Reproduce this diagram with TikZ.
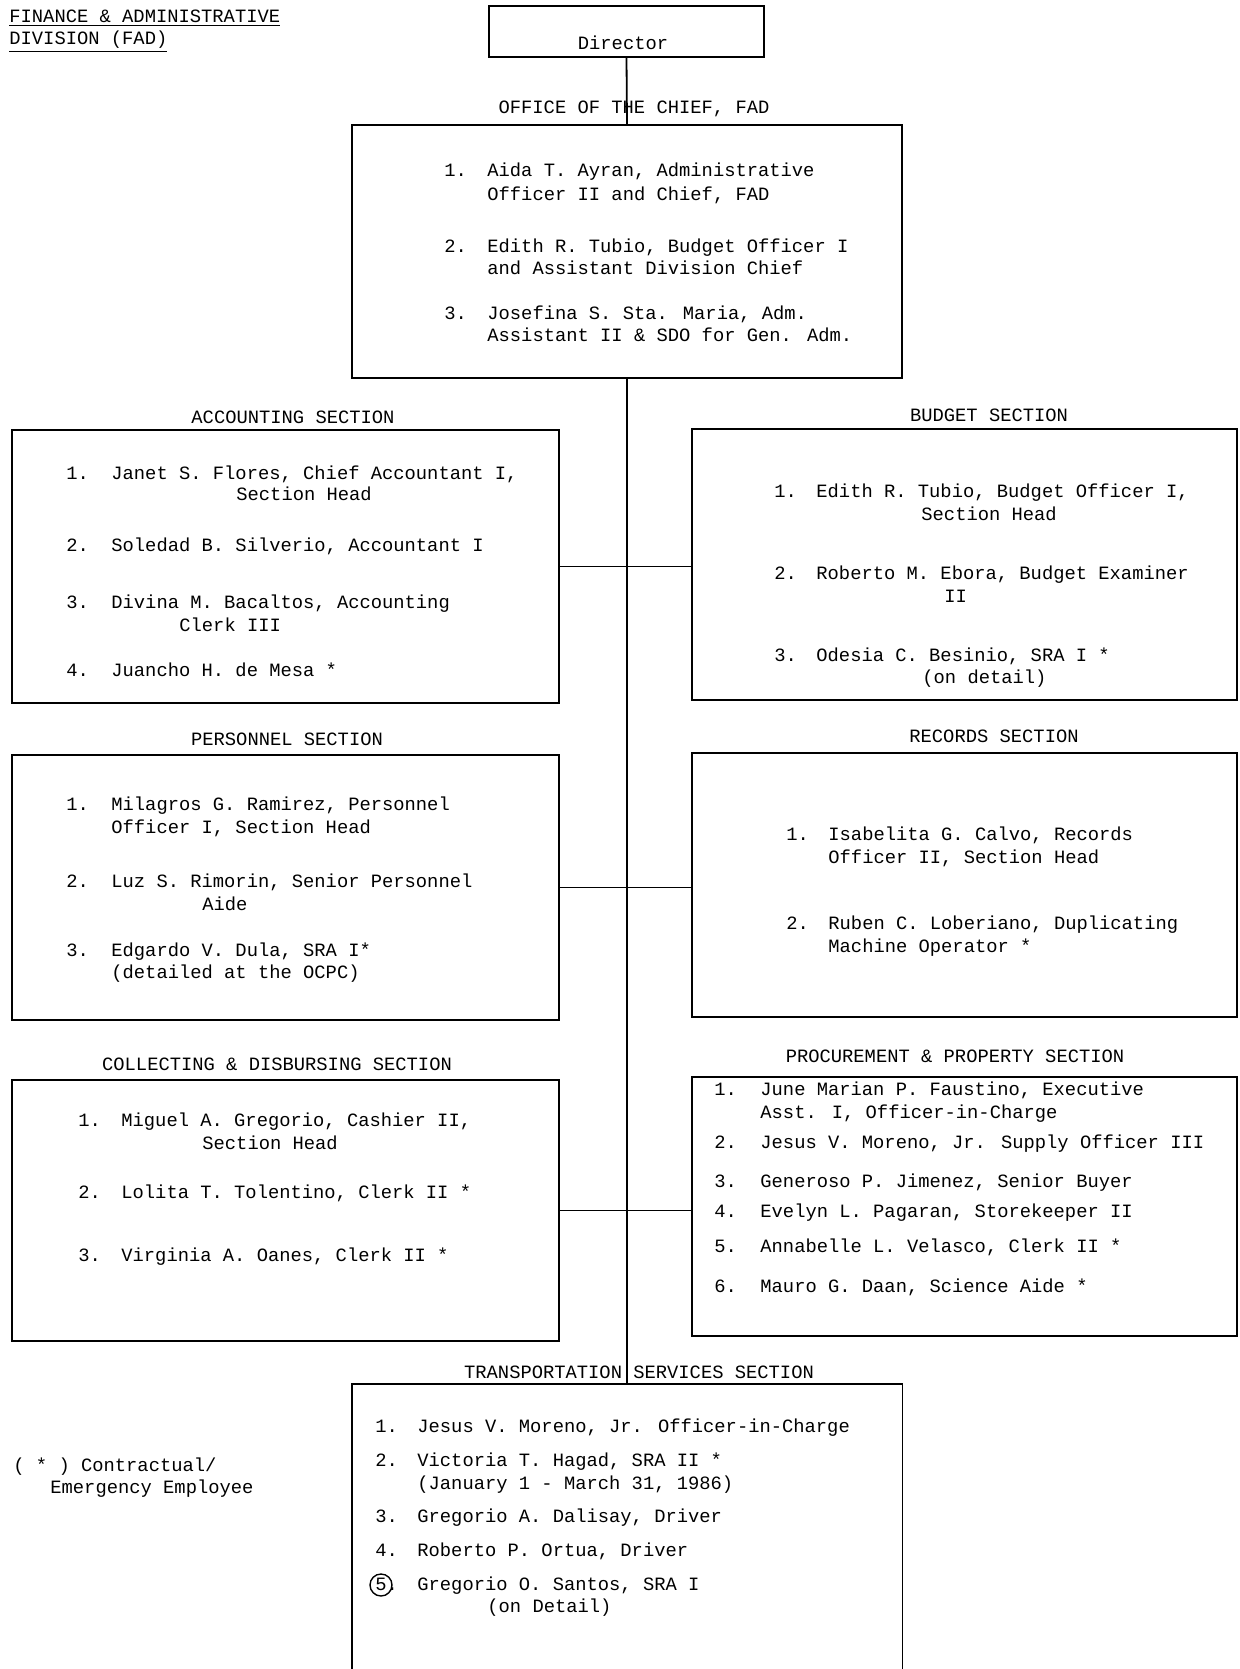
\documentclass[tikz,border=0pt]{standalone}
\usepackage{fontspec}
\usepackage{tikz}
\usetikzlibrary{positioning,calc}
\newfontfamily\tw{Liberation Mono}
\newcommand{\typed}{\tw\fontsize{9.4}{11}\selectfont}
\tikzset{
  unit/.style={draw,line width=0.9pt,inner sep=0pt},
  head/.style={inner sep=0pt,font=\typed},
  item/.style={anchor=mid west,inner sep=0pt,font=\typed},
  link/.style={line width=0.9pt}
}

\begin{document}
\begin{tikzpicture}[x=0.5pt,y=-0.5pt]
\useasboundingbox (0,0) rectangle (1240,1669);
% title
\node[item] (title1) at (9,18) {\underline{FINANCE \& ADMINISTRATIVE}};
\node[item] (title2) at (9,40) {\underline{DIVISION (FAD)}};
% boxes
\node[unit,line width=1.1pt,minimum width=137.5pt,minimum height=25.5pt] (dir) at (626.5,31.5) {};
\node[head] (dirtext) at (623,43) {Director};
\node[unit,minimum width=275pt,minimum height=126.5pt] (office) at (627,251.5) {};
\node[unit,minimum width=273.5pt,minimum height=136.5pt] (acct) at (285.5,566.5) {};
\node[unit,minimum width=272.5pt,minimum height=135.5pt] (budget) at (964.5,564.5) {};
\node[unit,minimum width=273.5pt,minimum height=132.5pt] (pers) at (285.5,887.5) {};
\node[unit,minimum width=272.5pt,minimum height=132pt] (rec) at (964.5,885) {};
\node[unit,minimum width=273.5pt,minimum height=130.5pt] (coll) at (285.5,1210.5) {};
\node[unit,minimum width=272.5pt,minimum height=129.5pt] (proc) at (964.5,1206.5) {};
\node[inner sep=0pt,minimum width=275pt,minimum height=142.5pt] (trans) at (627,1526.5) {};
\draw[link] (trans.south west) |- (trans.north east) -- (trans.south east);

% headings
\node[head] (hoff) at (634,109) {OFFICE OF THE CHIEF, FAD};
\node[head] (hacct) at (293,417) {ACCOUNTING SECTION};
\node[head] (hbud) at (989,415) {BUDGET SECTION};
\node[head] (hpers) at (287,739) {PERSONNEL SECTION};
\node[head] (hrec) at (994,736) {RECORDS SECTION};
\node[head] (hcoll) at (277,1064) {COLLECTING \& DISBURSING SECTION};
\node[head] (hproc) at (955,1056) {PROCUREMENT \& PROPERTY SECTION};
\node[head] (htrans) at (639,1372) {TRANSPORTATION SERVICES SECTION};

% connectors
\draw[link] (dir.south) -- (office.north);
\draw[link] (office.south) -- (trans.north);
\foreach \l/\r in {acct/budget,pers/rec,coll/proc}
  \draw[link] (\l.east) -- (\l.east -| \r.west);

% office of the chief
\node[item] (o1n) at (444,172) {1.};
\node[item] (o1a) at (487,172) {Aida T. Ayran, Administrative};
\node[item] (o1b) at (487,196) {Officer II and Chief, FAD};
\node[item] (o2n) at (444,248) {2.};
\node[item] (o2a) at (487,248) {Edith R. Tubio, Budget Officer I};
\node[item] (o2b) at (487,270) {and Assistant Division Chief};
\node[item] (o3n) at (444,315) {3.};
\node[item] (o3a) at (487,315) {Josefina S. Sta. Maria, Adm.};
\node[item] (o3b) at (487,337) {Assistant II \& SDO for Gen. Adm.};

% accounting
\node[item] (a1n) at (66,475) {1.};
\node[item] (a1a) at (111,475) {Janet S. Flores, Chief Accountant I,};
\node[item] (a1b) at (236,496) {Section Head};
\node[item] (a2n) at (66,547) {2.};
\node[item] (a2a) at (111,547) {Soledad B. Silverio, Accountant I};
\node[item] (a3n) at (66,604) {3.};
\node[item] (a3a) at (111,604) {Divina M. Bacaltos, Accounting};
\node[item] (a3b) at (179,627) {Clerk III};
\node[item] (a4n) at (66,672) {4.};
\node[item] (a4a) at (111,672) {Juancho H. de Mesa *};

% budget
\node[item] (b1n) at (774,493) {1.};
\node[item] (b1a) at (816,493) {Edith R. Tubio, Budget Officer I,};
\node[item] (b1b) at (921,516) {Section Head};
\node[item] (b2n) at (774,575) {2.};
\node[item] (b2a) at (816,575) {Roberto M. Ebora, Budget Examiner};
\node[item] (b2b) at (944,598) {II};
\node[item] (b3n) at (774,657) {3.};
\node[item] (b3a) at (816,657) {Odesia C. Besinio, SRA I *};
\node[item] (b3b) at (922,679) {(on detail)};

% personnel
\node[item] (p1n) at (66,806) {1.};
\node[item] (p1a) at (111,806) {Milagros G. Ramirez, Personnel};
\node[item] (p1b) at (111,829) {Officer I, Section Head};
\node[item] (p2n) at (66,883) {2.};
\node[item] (p2a) at (111,883) {Luz S. Rimorin, Senior Personnel};
\node[item] (p2b) at (202,906) {Aide};
\node[item] (p3n) at (66,952) {3.};
\node[item] (p3a) at (111,952) {Edgardo V. Dula, SRA I*};
\node[item] (p3b) at (111,974) {(detailed at the OCPC)};

% records
\node[item] (r1n) at (786,836) {1.};
\node[item] (r1a) at (828,836) {Isabelita G. Calvo, Records};
\node[item] (r1b) at (828,859) {Officer II, Section Head};
\node[item] (r2n) at (786,925) {2.};
\node[item] (r2a) at (828,925) {Ruben C. Loberiano, Duplicating};
\node[item] (r2b) at (828,948) {Machine Operator *};

% collecting & disbursing
\node[item] (c1n) at (78,1122) {1.};
\node[item] (c1a) at (121,1122) {Miguel A. Gregorio, Cashier II,};
\node[item] (c1b) at (202,1145) {Section Head};
\node[item] (c2n) at (78,1194) {2.};
\node[item] (c2a) at (121,1194) {Lolita T. Tolentino, Clerk II *};
\node[item] (c3n) at (78,1257) {3.};
\node[item] (c3a) at (121,1257) {Virginia A. Oanes, Clerk II *};

% procurement & property
\node[item] (q1n) at (714,1091) {1.};
\node[item] (q1a) at (760,1091) {June Marian P. Faustino, Executive};
\node[item] (q1b) at (760,1114) {Asst. I, Officer-in-Charge};
\node[item] (q2n) at (714,1144) {2.};
\node[item] (q2a) at (760,1144) {Jesus V. Moreno, Jr. Supply Officer III};
\node[item] (q3n) at (714,1183) {3.};
\node[item] (q3a) at (760,1183) {Generoso P. Jimenez, Senior Buyer};
\node[item] (q4n) at (714,1213) {4.};
\node[item] (q4a) at (760,1213) {Evelyn L. Pagaran, Storekeeper II};
\node[item] (q5n) at (714,1248) {5.};
\node[item] (q5a) at (760,1248) {Annabelle L. Velasco, Clerk II *};
\node[item] (q6n) at (714,1288) {6.};
\node[item] (q6a) at (760,1288) {Mauro G. Daan, Science Aide *};

% transportation services
\node[item] (t1n) at (375,1428) {1.};
\node[item] (t1a) at (417,1428) {Jesus V. Moreno, Jr. Officer-in-Charge};
\node[item] (t2n) at (375,1462) {2.};
\node[item] (t2a) at (417,1462) {Victoria T. Hagad, SRA II *};
\node[item] (t2b) at (417,1485) {(January 1 - March 31, 1986)};
\node[item] (t3n) at (375,1518) {3.};
\node[item] (t3a) at (417,1518) {Gregorio A. Dalisay, Driver};
\node[item] (t4n) at (375,1552) {4.};
\node[item] (t4a) at (417,1552) {Roberto P. Ortua, Driver};
\node[item] (t5n) at (375,1586) {5.};
\node[circle,draw,line width=0.7pt,minimum size=11pt] (t5c) at (381,1585) {};
\node[item] (t5a) at (417,1586) {Gregorio O. Santos, SRA I};
\node[item] (t5b) at (487,1608) {(on Detail)};

% legend
\node[item] (key1) at (13,1467) {( * ) Contractual/};
\node[item] (key2) at (50,1489) {Emergency Employee};
\end{tikzpicture}
\end{document}
